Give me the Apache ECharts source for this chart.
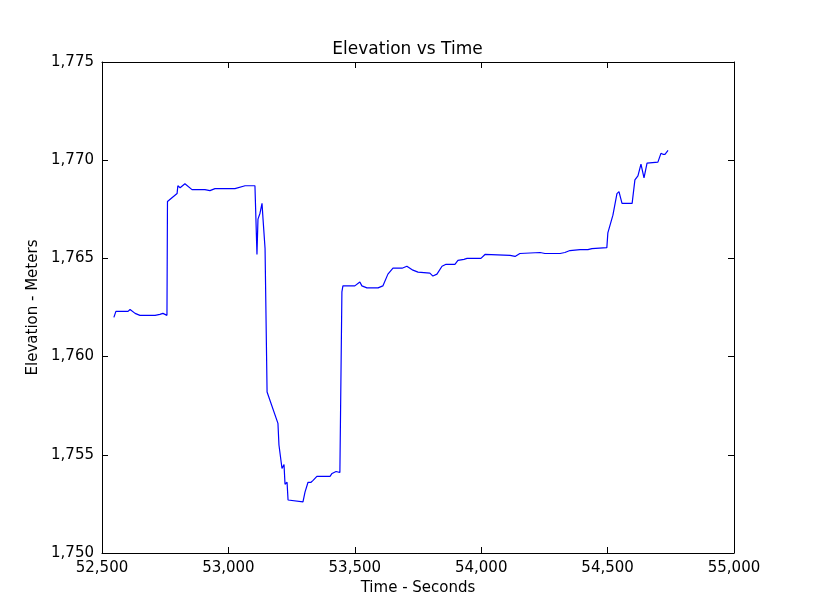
<!DOCTYPE html>
<html><head><meta charset="utf-8">
<script src="https://cdn.jsdelivr.net/npm/echarts@6/dist/echarts.min.js"></script>
<style>body{margin:0;background:#fff}#c{width:815px;height:615px}</style>
</head><body><div id="c"></div>
<script>
// time (s) and elevation (m)
var timeSec = [52547,52555,52603,52611,52631,52650,52710,52729,52741,52757,52759,52797,52800,52809,52828,52856,52907,52927,52947,53026,53066,53105,53109,53113,53117,53125,53133,53137,53145,53153,53196,53200,53206,53212,53220,53224,53232,53236,53295,53303,53315,53327,53335,53350,53402,53410,53426,53441,53445,53449,53453,53500,53520,53528,53548,53592,53599,53611,53631,53651,53687,53706,53730,53750,53797,53809,53825,53845,53861,53896,53908,53932,53944,53999,54015,54114,54134,54153,54233,54252,54312,54331,54351,54391,54422,54438,54497,54501,54521,54537,54545,54557,54597,54608,54620,54632,54644,54656,54699,54711,54719,54727,54739];
var elevation = [1762.0,1762.3,1762.3,1762.4,1762.2,1762.1,1762.1,1762.15,1762.2,1762.1,1767.9,1768.3,1768.7,1768.6,1768.8,1768.5,1768.5,1768.45,1768.55,1768.55,1768.7,1768.7,1768.8,1765.2,1767.0,1767.3,1767.8,1767.0,1765.5,1758.2,1756.6,1755.5,1755.6,1754.3,1754.5,1753.5,1753.6,1752.7,1752.6,1753.1,1753.6,1753.6,1753.7,1753.9,1753.9,1754.05,1754.15,1754.1,1754.2,1763.3,1763.6,1763.6,1763.8,1763.6,1763.5,1763.5,1763.6,1763.6,1764.2,1764.5,1764.5,1764.6,1764.4,1764.3,1764.25,1764.1,1764.2,1764.6,1764.7,1764.7,1764.9,1764.95,1765.0,1765.0,1765.2,1765.15,1765.1,1765.25,1765.3,1765.25,1765.25,1765.3,1765.4,1765.45,1765.45,1765.5,1765.55,1766.3,1767.2,1768.3,1768.4,1767.8,1767.8,1769.0,1769.2,1769.8,1769.1,1769.85,1769.9,1770.35,1770.3,1770.3,1770.5];

var chart = echarts.init(document.getElementById('c'));
var pts = timeSec.map(function (t, i) { return [t, elevation[i]]; });
var font = 'DejaVu Sans';
var frame = {
    axisLine: { show: true, onZero: false, lineStyle: { color: '#000', width: 1 } },
    axisTick: { show: true, inside: true, length: 6, lineStyle: { color: '#000' } },
    splitLine: { show: false }
};
chart.setOption({
    animation: false,
    title: { text: 'Elevation vs Time', left: 'center', top: 36,
        textStyle: { fontFamily: font, fontSize: 17, fontWeight: 'normal', color: '#000' } },
    grid: { left: 102, right: 81, top: 62, bottom: 62 },
    xAxis: [
        Object.assign({ type: 'value', min: 52500, max: 55000, interval: 500, position: 'bottom',
            name: 'Time - Seconds', nameLocation: 'middle', nameGap: 27,
            nameTextStyle: { fontFamily: font, fontSize: 15, color: '#000' },
            axisLabel: { fontFamily: font, fontSize: 15, color: '#000', margin: 8 } }, frame),
        Object.assign({ type: 'value', min: 52500, max: 55000, interval: 500, position: 'top',
            axisLabel: { show: false } }, frame)
    ],
    yAxis: [
        Object.assign({ type: 'value', min: 1750, max: 1775, interval: 5, position: 'left',
            name: 'Elevation - Meters', nameLocation: 'middle', nameGap: 55,
            nameTextStyle: { fontFamily: font, fontSize: 15, color: '#000' },
            axisLabel: { fontFamily: font, fontSize: 15, color: '#000', margin: 8 } }, frame),
        Object.assign({ type: 'value', min: 1750, max: 1775, interval: 5, position: 'right',
            axisLabel: { show: false } }, frame)
    ],
    series: [{
        type: 'line', data: pts, showSymbol: false,
        lineStyle: { color: '#0000ff', width: 1.2 }
    }]
});
</script></body></html>
